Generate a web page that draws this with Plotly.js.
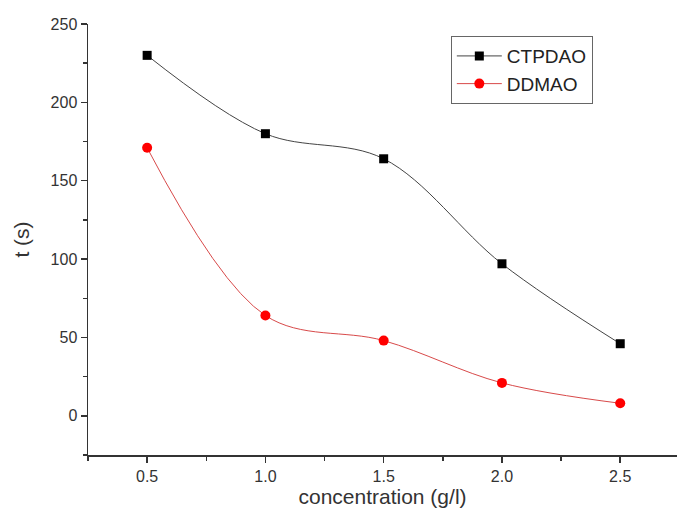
<!DOCTYPE html>
<html><head><meta charset="utf-8">
<script src="https://cdn.plot.ly/plotly-3.0.1.min.js"></script>
<style>html,body{margin:0;padding:0;background:#fff;overflow:hidden}</style>
</head><body><div id="chart" style="width:677px;height:512px"></div>
<script>
const concentration = [0.5, 1.0, 1.5, 2.0, 2.5];
const ctpdao = [230, 180, 164, 97, 46];
const ddmao = [171, 64, 48, 21, 8];
const xTicks = [0.5, 1.0, 1.5, 2.0, 2.5];
const xTickLabels = ['0.5', '1.0', '1.5', '2.0', '2.5'];
const yTicks = [0, 50, 100, 150, 200, 250];

const traces = [
  {x: concentration, y: ctpdao, name: 'CTPDAO', mode: 'lines+markers',
   line: {shape: 'spline', smoothing: 1, color: '#444', width: 1},
   marker: {symbol: 'square', size: 9, color: '#000'}},
  {x: concentration, y: ddmao, name: 'DDMAO', mode: 'lines+markers',
   line: {shape: 'spline', smoothing: 1, color: '#d84a4a', width: 1},
   marker: {symbol: 'circle', size: 10, color: '#ff0000'}}
];
const fam = 'Liberation Sans, Arial, sans-serif';
const axisFont = {family: fam, size: 16, color: '#333'};
const layout = {
  width: 677, height: 512,
  margin: {l: 88, r: 0, t: 24, b: 57},
  paper_bgcolor: '#fff', plot_bgcolor: '#fff',
  showlegend: true,
  legend: {x: 0.616, y: 0.972, xanchor: 'left', yanchor: 'top',
    bordercolor: '#666', borderwidth: 1, bgcolor: '#fff',
    font: {family: fam, size: 19, color: '#222'},
    itemwidth: 45, tracegroupgap: 0},
  xaxis: {range: [0.25, 2.74], tickvals: xTicks, ticktext: xTickLabels,
    showgrid: false, zeroline: false, showline: true, linecolor: '#333', linewidth: 1.5,
    ticks: 'outside', ticklen: 6, tickwidth: 1.5, tickcolor: '#333',
    minor: {dtick: 0.25, tick0: 0.25, ticks: 'outside', ticklen: 4, tickwidth: 1.5, tickcolor: '#333'},
    tickfont: axisFont,
    title: {text: 'concentration (g/l)', font: {family: fam, size: 21, color: '#333'}, standoff: 4}},
  yaxis: {range: [-25, 250], tickvals: yTicks,
    showgrid: false, zeroline: false, showline: true, linecolor: '#333', linewidth: 1.5,
    ticks: 'outside', ticklen: 6, tickwidth: 1.5, tickcolor: '#333',
    minor: {dtick: 25, tick0: 0, ticks: 'outside', ticklen: 4, tickwidth: 1.5, tickcolor: '#333'},
    tickfont: axisFont,
    title: {text: 't (s)', font: {family: fam, size: 21, color: '#333'}, standoff: 15}}
};
Plotly.newPlot('chart', traces, layout, {displayModeBar: false, staticPlot: true});
</script></body></html>
